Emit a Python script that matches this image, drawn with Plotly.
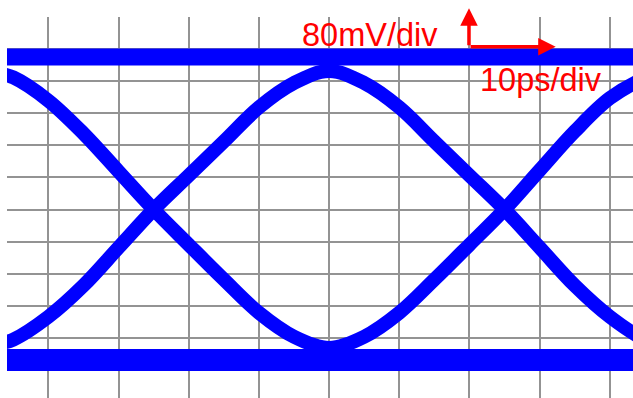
import plotly.graph_objects as go

# time axis in ps (10ps/div), amplitude in mV (80mV/div)
t_ps = [-47, -45, -40, -35, -30, -25, -20, -15, -10, -5, 0, 5, 10, 15, 20, 25, 30, 35, 40, 45, 47]

# upper arch (0 -> 1 -> 0 transitions)
upper_mv = [-335, -325, -268, -190, -95, 0, 85, 170, 255, 316, 346,
            316, 255, 170, 85, 0, -95, -190, -268, -325, -335]
# lower U (1 -> 0 -> 1 transitions)
lower_mv = [340, 330, 272, 190, 95, 0, -88, -175, -258, -318, -346,
            -318, -258, -175, -88, 0, 98, 195, 278, 328, 338]

# steady "1" and "0" levels
level_t = [-47, 47]
high_mv = [381, 381]
low_mv = [-376, -376]

blue = '#0000ff'
red = '#ff0000'

fig = go.Figure()
fig.add_trace(go.Scatter(x=level_t, y=high_mv, mode='lines', line=dict(color=blue, width=17)))
fig.add_trace(go.Scatter(x=level_t, y=low_mv, mode='lines', line=dict(color=blue, width=22)))
fig.add_trace(go.Scatter(x=t_ps, y=upper_mv, mode='lines',
                         line=dict(color=blue, width=14, shape='spline')))
fig.add_trace(go.Scatter(x=t_ps, y=lower_mv, mode='lines',
                         line=dict(color=blue, width=14, shape='spline')))

#scale labels and arrows
txt_font = dict(family='Liberation Sans, Arial', size=32.5, color=red)
fig.add_annotation(text='80mV/div', xref='paper', yref='paper', x=0.5799, y=0.953,
                   xanchor='center', yanchor='middle', showarrow=False, font=txt_font)
fig.add_annotation(text='10ps/div', xref='paper', yref='paper', x=0.853, y=0.834,
                   xanchor='center', yanchor='middle', showarrow=False, font=txt_font)
fig.add_annotation(text='', xref='paper', yref='paper', x=0.738, y=1.0228, ax=0, ay=38.4,
                   showarrow=True, arrowhead=2, arrowsize=1.0, arrowwidth=3.5, arrowcolor=red)
fig.add_annotation(text='', xref='paper', yref='paper', x=0.8765, y=0.922, ax=-86.7, ay=0,
                   showarrow=True, arrowhead=2, arrowsize=1.0, arrowwidth=3.5, arrowcolor=red)

grid = dict(showgrid=True, gridcolor='#939393', gridwidth=2, zeroline=False,
            showticklabels=False, ticks='', showline=False)
fig.update_xaxes(range=[-45.9, 43.3], tick0=0, dtick=10, **grid)
fig.update_yaxes(range=[-471, 481], tick0=0, dtick=80, **grid)
fig.update_layout(width=633, height=398, showlegend=False,
                  margin=dict(l=7, r=0, t=17, b=0),
                  plot_bgcolor='white', paper_bgcolor='white')

fig.write_html("out.html", config={'displayModeBar': False},
               post_script="document.body.style.margin='0';")
